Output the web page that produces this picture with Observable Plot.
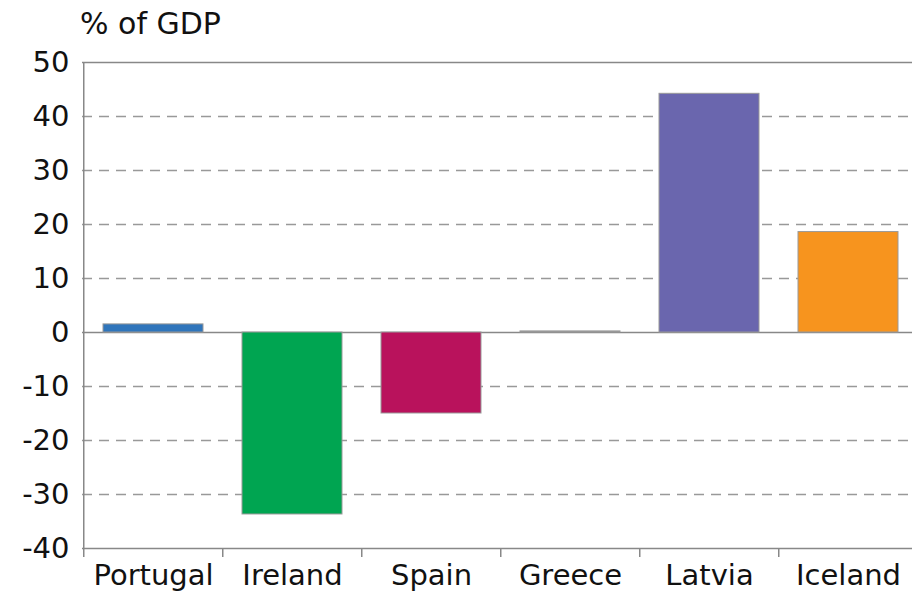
<!DOCTYPE html>
<html>
<head>
<meta charset="utf-8">
<script src="https://cdn.jsdelivr.net/npm/d3@7"></script>
<script src="https://cdn.jsdelivr.net/npm/@observablehq/plot@0.6"></script>
<style>
  html, body { margin: 0; padding: 0; background: #fff; overflow: hidden; }
  #title { font-family: "DejaVu Sans", sans-serif; font-size: 30px; color: #111; height: 44px; line-height: 44px; padding-left: 80px; padding-top: 2px; box-sizing: border-box; }
  #chart svg { max-width: none !important; display: block; }
</style>
</head>
<body>
<div id="title">% of GDP</div>
<div id="chart"></div>
<script>
const countries = ["Portugal", "Ireland", "Spain", "Greece", "Latvia", "Iceland"];
const values = [1.5, -33.7, -15.0, 0.2, 44.2, 18.6];
const colors = ["#2f75bb", "#00a551", "#b9125c", "#888888", "#6a66ae", "#f7941e"];
const yTicks = [-40, -30, -20, -10, 0, 10, 20, 30, 40, 50];
const gridTicks = [-30, -20, -10, 10, 20, 30, 40];

const data = countries.map((c, i) => ({country: c, value: values[i], color: colors[i]}));

const width = 921, marginLeft = 82, marginRight = 2;
const step = (width - marginLeft - marginRight) / countries.length;

const chart = Plot.plot({
  width,
  height: 550,
  marginLeft,
  marginRight,
  marginTop: 18,
  marginBottom: 46,
  style: {fontFamily: "DejaVu Sans, sans-serif", fontSize: "29px", color: "#111", background: "#fff", overflow: "visible", maxWidth: "none"},
  x: {domain: countries, paddingInner: 0.28, paddingOuter: 0.14, label: null},
  y: {domain: [-40, 50], label: null},
  marks: [
    Plot.ruleY(gridTicks, {stroke: "#999", strokeWidth: 1.5, strokeDasharray: "10,7"}),
    Plot.ruleY([50, -40, 0], {stroke: "#888", strokeWidth: 1.5}),
    Plot.barY(data, {x: "country", y: "value", fill: "color", stroke: "#999", strokeWidth: 1}),
    Plot.ruleX(countries, {x: d => d, dx: -step / 2, y1: d => d === countries[0] ? 50 : -40, y2: -40, insetBottom: -9, stroke: "#888", strokeWidth: 1.5}),
    Plot.axisY(yTicks, {tickSize: 0, tickPadding: 13, fontSize: 29, fill: "#111", tickFormat: d => String(d)}),
    Plot.axisX({tickSize: 0, tickPadding: 16, fontSize: 29, fill: "#111"})
  ]
});
document.getElementById("chart").appendChild(chart);
</script>
</body>
</html>
